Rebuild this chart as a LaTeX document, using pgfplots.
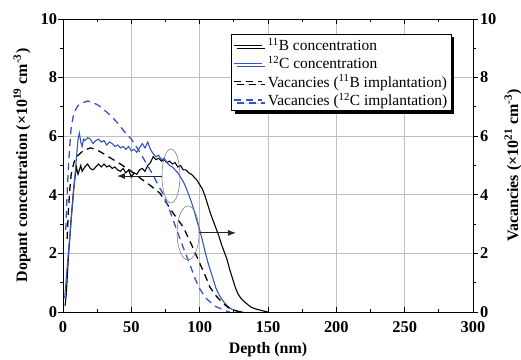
\documentclass[border=0pt]{standalone}
\usepackage{fontspec}
\setmainfont{Liberation Serif}
\usepackage{pgfplots}
\pgfplotsset{compat=1.18}
\usetikzlibrary{shadows,arrows.meta}
\definecolor{cblue}{rgb}{0.20,0.33,0.76}
\definecolor{gridc}{rgb}{0.75,0.75,0.75}
\begin{document}
\begin{tikzpicture}
\useasboundingbox (-63bp,-48bp) rectangle (458bp,312bp);
\pgfplotsset{
  common/.style={
    at={(0,0)}, anchor=south west,
    width=410bp, height=293bp, scale only axis,
    xmin=0, xmax=300, ymin=0, ymax=10,
    /pgf/number format/assume math mode=true,
    tick label style={font=\fontsize{16.5}{16.5}\selectfont\bfseries},
    label style={font=\fontsize{16}{18}\selectfont\bfseries},
    major tick length=5bp, minor tick length=3bp,
    tick align=inside,
    tick style={black, line width=0.8pt},
    axis line style={line width=0.9pt},
    minor y tick num=1,
  }
}
\begin{axis}[common,
  xtick={0,50,...,300}, ytick={0,2,...,10},
  minor x tick num=1,
  xtick pos=both, ytick pos=left,
  grid=major, grid style={gridc, line width=0.7pt},
  major y tick style={xshift=-5bp},
  minor y tick style={xshift=-3bp},
  yticklabel style={xshift=-2.5bp},
  xticklabel style={inner ysep=0bp, yshift=-9bp},
  xlabel={Depth (nm)},
  xlabel style={at={(axis description cs:0.5,-0.13)}, anchor=center},
  ylabel={Dopant concentration (×10\textsuperscript{19} cm\textsuperscript{-3})},
  ylabel style={at={(axis description cs:-0.1,0.5)}, anchor=center},
]
% 11B concentration
\addplot[black, line width=1.1pt] coordinates {
(1.5,0.2)(2.4,0.6)(4,1.9)(6,3.2)(8,4.3)(9.8,4.95)(11,4.7)(12,4.85)(13,5.0)(14,4.8)(16,4.95)(18,5.05)(20,4.9)(22,4.85)(24,4.95)(26,5.05)(28,4.95)(30,5.05)(32,4.95)(34,5.0)(36,4.9)(38,4.95)(40,4.85)(42,4.8)(44,4.9)(46,4.75)(48,4.85)(50,4.6)(52,4.75)(54,4.7)(56,4.85)(58,4.9)(60,4.8)(62,5.0)(64,5.1)(66,5.3)(68,5.2)(70,5.25)(72,5.15)(74,5.2)(76,5.1)(78,5.15)(80,5.05)(82,5.1)(84,4.95)(86,5.0)(88,4.85)(90,4.85)(92,4.75)(94,4.7)(96,4.6)(98,4.5)(100,4.35)(102,4.2)(104,3.95)(106,3.65)(108,3.35)(110,3.1)(112,2.85)(114,2.6)(116,2.3)(118,2.05)(120,1.8)(122,1.45)(124,1.15)(126,0.85)(128,0.62)(130,0.48)(132,0.38)(134,0.3)(136,0.22)(138,0.16)(140,0.12)(142,0.09)(144,0.07)(147,0.03)(150,0)
};
% 12C concentration
\addplot[cblue, line width=1.1pt] coordinates {
(1.2,0.47)(3,1.5)(5,2.6)(7,3.7)(9,4.8)(11,5.9)(12,6.1)(13,5.8)(14,5.65)(15,5.9)(16,5.85)(18,5.95)(20,5.9)(22,5.75)(24,5.85)(26,5.9)(28,5.8)(30,5.85)(32,5.7)(34,5.8)(36,5.75)(38,5.65)(40,5.7)(42,5.6)(44,5.65)(46,5.55)(48,5.65)(50,5.5)(52,5.55)(54,5.45)(56,5.6)(58,5.75)(60,5.6)(62,5.8)(64,5.55)(66,5.4)(68,5.3)(70,5.35)(72,5.2)(74,5.25)(76,5.1)(78,5.0)(80,4.95)(82,4.85)(84,4.75)(86,4.6)(88,4.45)(90,4.25)(92,4.0)(94,3.75)(96,3.45)(98,3.1)(100,2.8)(102,2.45)(104,2.05)(106,1.7)(108,1.4)(110,1.1)(112,0.8)(114,0.6)(116,0.45)(118,0.32)(120,0.22)(122,0.14)(124,0.08)(127,0.03)(132,0)
};
\end{axis}
\begin{axis}[common,
  axis x line=none,
  axis y line*=right,
  ytick={0,2,...,10},
  major y tick style={xshift=5bp},
  minor y tick style={xshift=3bp},
  yticklabel style={xshift=3.5bp, inner ysep=0bp},
  ylabel={Vacancies (×10\textsuperscript{21} cm\textsuperscript{-3})},
  ylabel style={at={(axis description cs:1.0976,0.5)}, anchor=center},
  legend cell align=left,
  legend style={at={(0.41,0.949)}, anchor=north west, draw=black, line width=0.8pt,
    fill=white, drop shadow={shadow xshift=3bp, shadow yshift=-3bp, opacity=1, fill=black},
    font=\fontsize{15.5}{17}\selectfont, row sep=0.5bp, inner sep=1.8bp,
    /tikz/every odd column/.append style={column sep=3bp}},
  legend image code/.code={\draw[#1] plot coordinates {(0cm,0cm) (1.0cm,0cm)};},
]
\addlegendimage{black, line width=1.1pt}
\addlegendentry{\textsuperscript{11}B concentration}
\addlegendimage{cblue, line width=1.1pt}
\addlegendentry{\textsuperscript{12}C concentration}
% Vacancies (11B implantation)
\addplot[black, line width=1.3pt, dash pattern=on 7bp off 5bp] coordinates {
(3,2.5)(4,3.5)(5,4.2)(6,4.7)(8,5.1)(10,5.3)(14.6,5.5)(20,5.6)(24,5.55)(28,5.45)(35,5.25)(42,5.05)(50,4.8)(57,4.55)(63,4.35)(67,4.2)(71,4.05)(76,3.7)(80.5,3.38)(84,3.15)(88,2.9)(92,2.5)(95,2.2)(100,1.67)(104,1.25)(107.5,0.85)(112,0.55)(117,0.3)(121,0.15)(126,0.05)(130,0)
};
\addlegendentry{Vacancies (\textsuperscript{11}B implantation)}
% Vacancies (12C implantation)
\addplot[cblue, line width=1.3pt, dash pattern=on 7bp off 5bp] coordinates {
(2,2.8)(3,4.0)(4,5.0)(5,5.7)(6,6.3)(8,6.8)(11,7.05)(15,7.15)(18,7.2)(22,7.15)(26,7.05)(30,6.9)(35,6.7)(40,6.45)(45,6.15)(50,5.9)(55,5.55)(60,5.15)(65,4.75)(70,4.3)(73,4.05)(77,3.6)(80.5,3.15)(84,2.7)(88,2.2)(93,1.6)(97,1.1)(100,0.8)(104,0.5)(107.5,0.35)(111,0.2)(115,0.12)(119,0.04)(122,0)
};
\addlegendentry{Vacancies (\textsuperscript{12}C implantation)}
% annotations
\draw[gray, line width=0.6pt] (axis cs:79,4.64) ellipse [x radius=9bp, y radius=27bp];
\draw[gray, line width=0.6pt] (axis cs:91.5,2.7) ellipse [x radius=11bp, y radius=27bp];
\draw[black!85, line width=0.8pt, -{Latex[length=8bp,width=6bp]}] (axis cs:72.4,4.64) -- (axis cs:39.5,4.64);
\draw[black!85, line width=0.8pt, -{Latex[length=8bp,width=6bp]}] (axis cs:99.5,2.7) -- (axis cs:126.5,2.7);
\end{axis}
\end{tikzpicture}
\end{document}
